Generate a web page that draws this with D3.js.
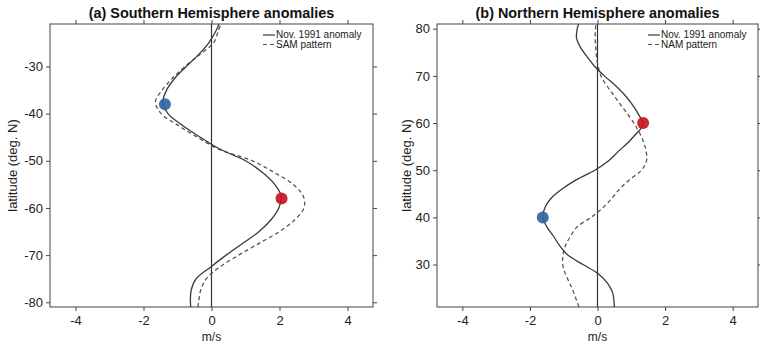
<!DOCTYPE html>
<html>
<head>
<meta charset="utf-8">
<script src="https://d3js.org/d3.v7.min.js"></script>
<style>
body { margin: 0; background: #fff; }
svg { display: block; font-family: "Liberation Sans", Arial, Helvetica, sans-serif; }
</style>
</head>
<body>
<svg id="drawing_region"></svg>
<script>
// values
const x_ticks = [-4, -2, 0, 2, 4];
const x_domain = [-4.75, 4.75];

const sh_yticks = [-80, -70, -60, -50, -40, -30];
const sh_lat = [-81, -80, -77.5, -75, -72.5, -70, -67.5, -65, -62.5, -60, -57.5, -55, -52.5, -50, -47.5, -45, -42.5, -40, -37.5, -35, -32.5, -30, -27.5, -25, -22.5, -21];
const sh_nov = [-0.61, -0.62, -0.6, -0.45, -0.02, 0.43, 0.92, 1.4, 1.75, 1.98, 2.05, 1.86, 1.5, 1.0, 0.24, -0.33, -0.85, -1.28, -1.43, -1.32, -1.08, -0.74, -0.38, -0.08, 0.13, 0.22];
const sh_sam = [-0.4, -0.38, -0.32, -0.15, 0.25, 0.8, 1.4, 2.0, 2.45, 2.72, 2.7, 2.4, 1.85, 1.2, 0.2, -0.42, -0.98, -1.48, -1.65, -1.45, -1.15, -0.78, -0.35, 0.06, 0.2, 0.27];
const sh_dot_lat = [-38, -58];
const sh_dot_u = [-1.37, 2.06];
const sh_legend = ["Nov. 1991 anomaly", "SAM pattern"];

const nh_yticks = [30, 40, 50, 60, 70, 80];
const nh_lat = [21, 22, 24, 26, 28, 30, 32, 34, 36, 38, 40, 42, 44, 46, 48, 50, 52, 54, 56, 58, 59, 60, 62, 64, 66, 68, 70, 72, 74, 76, 78, 80, 81];
const nh_nov = [0.5, 0.49, 0.45, 0.3, 0.03, -0.43, -0.88, -1.12, -1.3, -1.5, -1.62, -1.56, -1.38, -1.05, -0.62, -0.08, 0.33, 0.62, 0.92, 1.18, 1.3, 1.34, 1.2, 1.02, 0.8, 0.52, 0.2, -0.08, -0.3, -0.5, -0.62, -0.6, -0.56];
const nh_nam = [-0.55, -0.6, -0.7, -0.82, -0.95, -1.03, -1.02, -0.95, -0.8, -0.6, -0.19, 0.15, 0.42, 0.65, 0.95, 1.3, 1.45, 1.44, 1.36, 1.24, 1.16, 1.08, 0.88, 0.67, 0.47, 0.27, 0.1, 0.02, -0.03, -0.05, -0.07, -0.06, -0.05];
const nh_dot_lat = [40, 60];
const nh_dot_u = [-1.62, 1.35];
const nh_legend = ["Nov. 1991 anomaly", "NAM pattern"];

const svg = d3.select('#drawing_region')
    .attr('width', 760)
    .attr('height', 343);

class ProfilePanel {
    constructor( config, data ) {
        this.config = config;
        this.data = data;
        this.init();
    }

    init() {
        let self = this;
        self.svg = d3.select( self.config.parent );
        self.chart = self.svg.append('g')
            .attr('transform', `translate(${self.config.left}, ${self.config.top})`);

        self.xscale = d3.scaleLinear()
            .domain( x_domain )
            .range( [0, self.config.width] );
        self.yscale = d3.scaleLinear()
            .domain( self.config.ydomain )
            .range( [self.config.height, 0] );
    }

    render() {
        let self = this;
        const w = self.config.width, h = self.config.height;
        const fmt = d => String(d);

        const axes = [
            [d3.axisBottom( self.xscale ).tickValues(x_ticks).tickFormat(fmt).tickPadding(5), `translate(0, ${h})`],
            [d3.axisTop( self.xscale ).tickValues(x_ticks).tickFormat(''), 'translate(0, 0)'],
            [d3.axisLeft( self.yscale ).tickValues(self.config.yticks).tickFormat(fmt).tickPadding(3), 'translate(0, 0)'],
            [d3.axisRight( self.yscale ).tickValues(self.config.yticks).tickFormat(''), `translate(${w}, 0)`]
        ];
        axes.forEach( ([axis, tr]) => {
            const g = self.chart.append('g')
                .attr('transform', tr)
                .call( axis.tickSize(4) );
            g.select('.domain').remove();
            g.selectAll('line').attr('stroke', '#444');
            g.selectAll('text').attr('fill', '#222').attr('font-size', '13px')
                .attr('font-family', '"Liberation Sans", Arial, sans-serif');
        });

        self.chart.append('rect')
            .attr('width', w)
            .attr('height', h)
            .attr('fill', 'none')
            .attr('stroke', '#444')
            .attr('stroke-width', 1);

        // zero line
        self.chart.append('line')
            .attr('x1', self.xscale(0)).attr('x2', self.xscale(0))
            .attr('y1', 0).attr('y2', h)
            .attr('stroke', '#333')
            .attr('stroke-width', 1.2);

        const line = d3.line()
            .x( d => self.xscale( d.u ) )
            .y( d => self.yscale( d.lat ) )
            .curve( d3.curveCatmullRom.alpha(0.5) );

        self.chart.append('path')
            .datum( self.data.pattern )
            .attr('d', line)
            .attr('fill', 'none')
            .attr('stroke', '#555')
            .attr('stroke-width', 1.3)
            .attr('stroke-dasharray', '4,3');

        self.chart.append('path')
            .datum( self.data.anomaly )
            .attr('d', line)
            .attr('fill', 'none')
            .attr('stroke', '#3a3a3a')
            .attr('stroke-width', 1.3);

        self.chart.selectAll('circle')
            .data( self.data.dots )
            .enter()
            .append('circle')
            .attr('cx', d => self.xscale( d.u ))
            .attr('cy', d => self.yscale( d.lat ))
            .attr('r', 6)
            .attr('fill', d => d.u < 0 ? '#2f66a3' : '#c8141f')
            .attr('fill-opacity', 0.92);

        // legend
        const lg = self.chart.append('g')
            .attr('transform', `translate(${w - 110}, 0)`);
        self.config.legend.forEach( (label, i) => {
            const y = 11 + i * 9.5;
            lg.append('line')
                .attr('x1', 0).attr('x2', 12)
                .attr('y1', y).attr('y2', y)
                .attr('stroke', i == 0 ? '#3a3a3a' : '#555')
                .attr('stroke-width', 1.2)
                .attr('stroke-dasharray', i == 0 ? null : '4,3');
            lg.append('text')
                .attr('x', 13)
                .attr('y', y + 3.3)
                .attr('font-size', '10px')
                .attr('fill', '#222')
                .text(label);
        });

        self.chart.append('text')
            .attr('x', w / 2)
            .attr('y', -6)
            .attr('text-anchor', 'middle')
            .attr('font-size', '14.4px')
            .attr('font-weight', 'bold')
            .attr('fill', '#111')
            .text( self.config.title );

        self.chart.append('text')
            .attr('x', self.xscale(0))
            .attr('y', h + 33.5)
            .attr('text-anchor', 'middle')
            .attr('font-size', '12px')
            .attr('fill', '#222')
            .text('m/s');

        self.chart.append('text')
            .attr('transform', `translate(${self.config.ylabel_x}, ${h / 2}) rotate(-90)`)
            .attr('text-anchor', 'middle')
            .attr('font-size', '13px')
            .attr('fill', '#222')
            .text('latitude (deg. N)');
    }
}

const pts = (lat, u) => lat.map( (l, i) => ({lat: l, u: u[i]}) );

const sh_panel = new ProfilePanel( {
    parent: '#drawing_region',
    left: 50, top: 24, width: 323, height: 283,
    ydomain: [-81, -21],
    yticks: sh_yticks,
    legend: sh_legend,
    title: '(a) Southern Hemisphere anomalies',
    ylabel_x: -33.5
}, {
    anomaly: pts( sh_lat, sh_nov ),
    pattern: pts( sh_lat, sh_sam ),
    dots: pts( sh_dot_lat, sh_dot_u )
});
sh_panel.render();

const nh_panel = new ProfilePanel( {
    parent: '#drawing_region',
    left: 437, top: 24, width: 321, height: 283,
    ydomain: [21, 81],
    yticks: nh_yticks,
    legend: nh_legend,
    title: '(b) Northern Hemisphere anomalies',
    ylabel_x: -26.5
}, {
    anomaly: pts( nh_lat, nh_nov ),
    pattern: pts( nh_lat, nh_nam ),
    dots: pts( nh_dot_lat, nh_dot_u )
});
nh_panel.render();
</script>
</body>
</html>
